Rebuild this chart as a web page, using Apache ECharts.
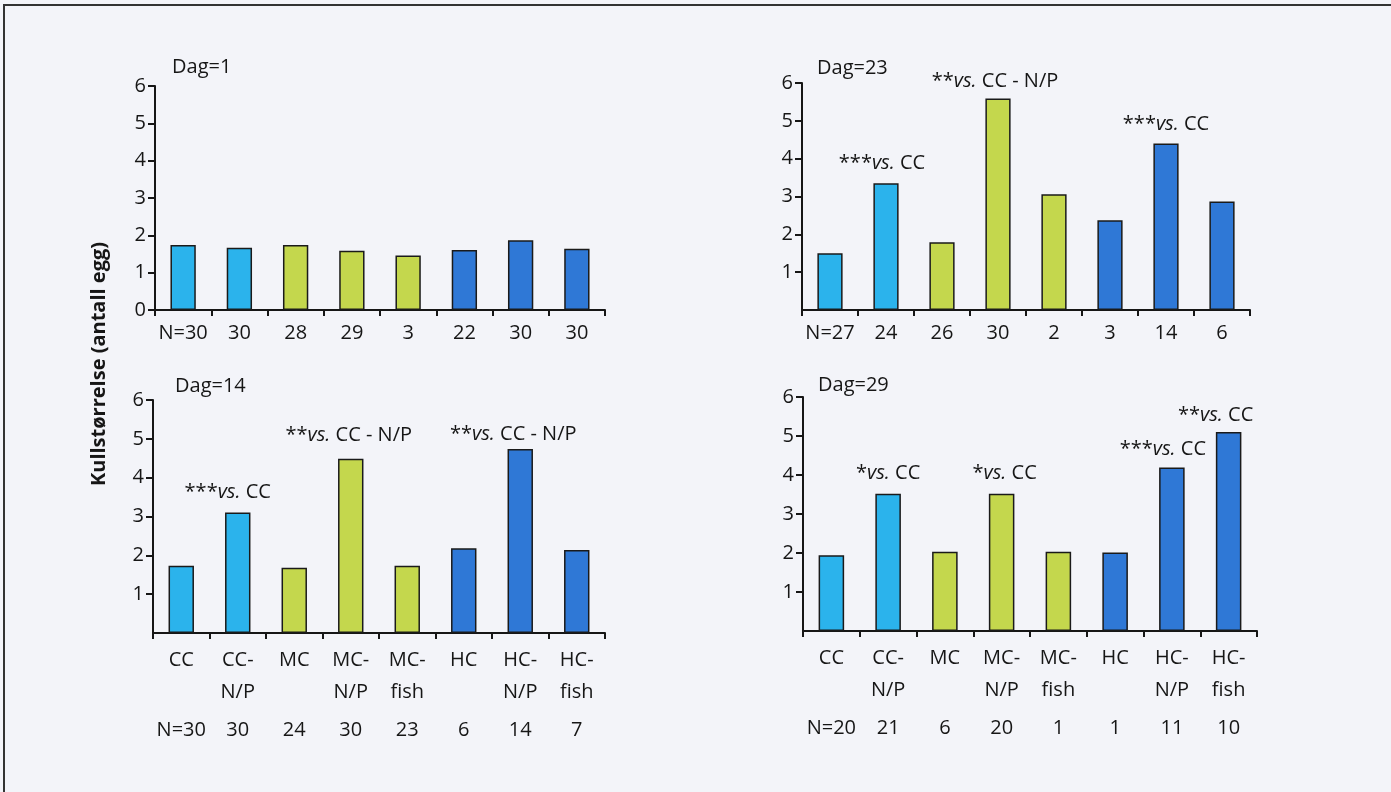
<!DOCTYPE html>
<html><head><meta charset="utf-8">
<script src="https://cdn.jsdelivr.net/npm/echarts@6/dist/echarts.min.js"></script>
<style>html,body{margin:0;padding:0;background:#f3f4f9}#c{width:1391px;height:792px}</style>
</head><body><div id="c"></div>
<script>
// ---------- DATA ----------
const categories = ['CC', 'CC-\nN/P', 'MC', 'MC-\nN/P', 'MC-\nfish', 'HC', 'HC-\nN/P', 'HC-\nfish'];
const treatmentGroup = ['CC', 'CC', 'MC', 'MC', 'MC', 'HC', 'HC', 'HC'];
const yTicks = [0, 1, 2, 3, 4, 5, 6];

const dag1Values  = [1.74, 1.67, 1.74, 1.59, 1.46, 1.61, 1.87, 1.64];
const dag23Values = [1.50, 3.35, 1.79, 5.59, 3.06, 2.37, 4.40, 2.87];
const dag14Values = [1.73, 3.10, 1.68, 4.49, 1.73, 2.18, 4.74, 2.14];
const dag29Values = [1.94, 3.52, 2.03, 3.52, 2.03, 2.01, 4.19, 5.10];

const dag1N  = ['N=30', '30', '28', '29', '3', '22', '30', '30'];
const dag23N = ['N=27', '24', '26', '30', '2', '3', '14', '6'];
const dag14N = ['N=30', '30', '24', '30', '23', '6', '14', '7'];
const dag29N = ['N=20', '21', '6', '20', '1', '1', '11', '10'];

const dag1Notes  = ['', '', '', '', '', '', '', ''];
const dag23Notes = ['', '***vs. CC', '', '**vs. CC - N/P', '', '', '***vs. CC', ''];
const dag14Notes = ['', '***vs. CC', '', '**vs. CC - N/P', '', '', '**vs. CC - N/P', ''];
const dag29Notes = ['', '*vs. CC', '', '*vs. CC', '', '', '***vs. CC', '**vs. CC'];

const panelTitles = ['Dag=1', 'Dag=23', 'Dag=14', 'Dag=29'];
const yTitle = 'Kullstørrelse (antall egg)';

// ---------- STYLE / LAYOUT ----------
const FONT = '"Open Sans", "Noto Sans", sans-serif';
const INK = '#161616';
const groupColors = { CC: '#2bb3ec', MC: '#c4d74d', HC: '#2f78d6' };
const layout = [
  { grid: { left: 155, top: 86, width: 450, height: 224 }, title: { left: 172, top: 57 }, showCats: false, showZero: true },
  { grid: { left: 802, top: 83, width: 448, height: 227 }, title: { left: 817, top: 58 }, showCats: false, showZero: false },
  { grid: { left: 153, top: 400, width: 452, height: 233 }, title: { left: 175, top: 376 }, showCats: true, showZero: false },
  { grid: { left: 803, top: 397, width: 454, height: 234 }, title: { left: 818, top: 375 }, showCats: true, showZero: false }
];
const noteOffsets = [
  [[0,0],[0,0],[0,0],[0,0],[0,0],[0,0],[0,0],[0,0]],
  [[0,0],[-4,-2],[0,0],[-3,1],[0,0],[0,0],[0,-1],[0,0]],
  [[0,0],[-10,-2],[0,0],[-2,-5],[0,0],[0,0],[-7,3],[0,0]],
  [[0,0],[0,-2],[0,0],[3,-2],[0,0],[0,0],[-9,0],[-13,1]]
];

const panelValues = [dag1Values, dag23Values, dag14Values, dag29Values];
const panelN = [dag1N, dag23N, dag14N, dag29N];
const panelNotes = [dag1Notes, dag23Notes, dag14Notes, dag29Notes];

const baseText = { fontFamily: FONT, fontSize: 20, fontWeight: 500, color: INK };

function noteRich(txt) {
  const k = txt.indexOf('vs.');
  return '{n|' + txt.slice(0, k) + '}{i|vs.}{n|' + txt.slice(k + 3) + '}';
}

const option = {
  backgroundColor: '#f3f4f9',
  animation: false,
  title: [], grid: [], xAxis: [], yAxis: [], series: [],
  graphic: [
    { type: 'line', shape: { x1: 4, y1: 4, x2: 4, y2: 792 }, style: { stroke: '#333', lineWidth: 2 } },
    { type: 'line', shape: { x1: 4, y1: 5, x2: 1391, y2: 5 }, style: { stroke: '#333', lineWidth: 2 } },
    { type: 'text', x: 99, y: 364, rotation: Math.PI / 2,
      style: { text: yTitle, fontFamily: FONT, fontSize: 20, fontWeight: 'bold', fill: INK, align: 'center', verticalAlign: 'middle' } }
  ]
};

layout.forEach((L, p) => {
  option.grid.push(Object.assign({ containLabel: false }, L.grid));
  option.title.push({ text: panelTitles[p], left: L.title.left, top: L.title.top, padding: 0,
    textStyle: Object.assign({}, baseText) });

  const axisLineStyle = { color: INK, width: 2 };
  const xi = option.xAxis.length;
  option.xAxis.push({
    gridIndex: p, type: 'category',
    data: L.showCats ? categories : panelN[p],
    axisLine: { show: true, lineStyle: axisLineStyle },
    axisTick: { show: true, length: 6, lineStyle: { color: INK, width: 2 } },
    axisLabel: Object.assign({}, baseText, { interval: 0, margin: 11, lineHeight: L.showCats ? 32 : 24 }),
    splitLine: { show: false }
  });
  if (L.showCats) {
    option.xAxis.push({
      gridIndex: p, type: 'category', position: 'bottom', offset: 77,
      data: panelN[p],
      axisLine: { show: false }, axisTick: { show: false },
      axisLabel: Object.assign({}, baseText, { interval: 0, margin: 8, lineHeight: 24 }),
      splitLine: { show: false }
    });
  }
  option.yAxis.push({
    gridIndex: p, type: 'value', min: yTicks[0], max: yTicks[yTicks.length - 1], interval: 1,
    axisLine: { show: true, lineStyle: axisLineStyle },
    axisTick: { show: true, length: 7, lineStyle: { color: INK, width: 2 } },
    axisLabel: Object.assign({}, baseText, { margin: 9, showMinLabel: L.showZero }),
    splitLine: { show: false }
  });

  option.series.push({
    type: 'bar', xAxisIndex: xi, yAxisIndex: p, barWidth: '45%',
    data: panelValues[p].map((v, i) => {
      const note = panelNotes[p][i];
      return {
        value: v,
        itemStyle: { color: groupColors[treatmentGroup[i]], borderColor: '#1a1a1a', borderWidth: 1.5 },
        label: note ? {
          show: true, position: 'top', distance: 8,
          offset: noteOffsets[p][i],
          formatter: noteRich(note),
          rich: {
            n: { fontFamily: FONT, fontSize: 20, fontWeight: 500, color: INK },
            i: { fontFamily: FONT, fontSize: 20, fontWeight: 500, color: INK, fontStyle: 'italic' }
          }
        } : { show: false }
      };
    })
  });
});

const chart = echarts.init(document.getElementById('c'), null, { renderer: 'canvas' });
chart.setOption(option);
</script>
</body></html>
